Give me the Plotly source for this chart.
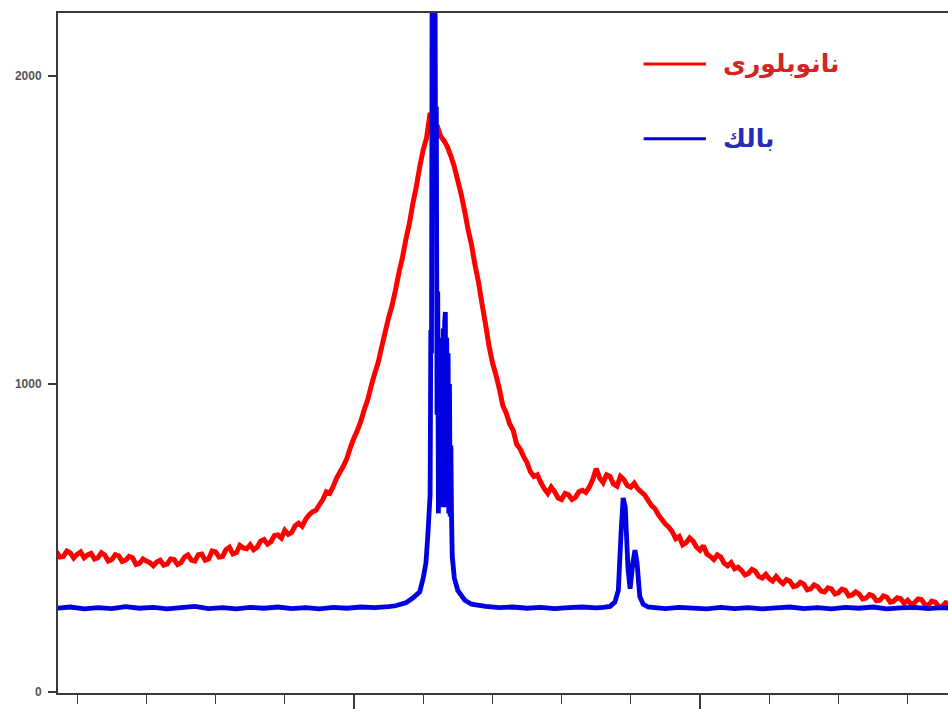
import plotly.graph_objects as go

# ---- data ----
nano_2theta = [
    25.70, 25.75, 25.80, 25.85, 25.90, 25.95,
    26.00, 26.05, 26.10, 26.15, 26.20, 26.25, 26.30, 26.35, 26.40, 26.45,
    26.50, 26.55, 26.60, 26.65, 26.70, 26.75, 26.80, 26.85, 26.90, 26.95,
    27.00, 27.05, 27.10, 27.15, 27.20, 27.25, 27.30, 27.35, 27.40, 27.45,
    27.50, 27.55, 27.60, 27.65, 27.70, 27.75, 27.80, 27.85, 27.90, 27.95,
    28.00, 28.05, 28.10, 28.15, 28.20, 28.25, 28.30, 28.35, 28.40, 28.45,
    28.50, 28.55, 28.60, 28.65, 28.70, 28.75, 28.80, 28.85, 28.90, 28.95,
    29.00, 29.05, 29.10, 29.15, 29.20, 29.25, 29.30, 29.35, 29.40, 29.45,
    29.50, 29.55, 29.60, 29.65, 29.70, 29.75, 29.80, 29.85, 29.90, 29.95,
    30.00, 30.05, 30.10, 30.15, 30.20, 30.25, 30.30, 30.35, 30.40, 30.45,
    30.50, 30.55, 30.60, 30.65, 30.70, 30.75, 30.80, 30.85, 30.90, 30.95,
    31.00, 31.05, 31.10, 31.15, 31.20, 31.25, 31.30, 31.35, 31.40, 31.45,
    31.50, 31.55, 31.60, 31.65, 31.70, 31.75, 31.80, 31.85, 31.90, 31.95,
    32.00, 32.05, 32.10, 32.15, 32.20, 32.25, 32.30, 32.35, 32.40, 32.45,
    32.50, 32.55, 32.60, 32.65, 32.70, 32.75, 32.80, 32.85, 32.90, 32.95,
    33.00, 33.05, 33.10, 33.15, 33.20, 33.25, 33.30, 33.35, 33.40, 33.45,
    33.50, 33.55, 33.60, 33.65, 33.70, 33.75, 33.80, 33.85, 33.90, 33.95,
    34.00, 34.05, 34.10, 34.15, 34.20, 34.25, 34.30, 34.35, 34.40, 34.45,
    34.50, 34.55, 34.60, 34.65, 34.70, 34.75, 34.80, 34.85, 34.90, 34.95,
    35.00, 35.05, 35.10, 35.15, 35.20, 35.25, 35.30, 35.35, 35.40, 35.45,
    35.50, 35.55, 35.60, 35.65, 35.70, 35.75, 35.80, 35.85, 35.90, 35.95,
    36.00, 36.05, 36.10, 36.15, 36.20, 36.25, 36.30, 36.35, 36.40, 36.45,
    36.50, 36.55, 36.60, 36.65, 36.70, 36.75, 36.80, 36.85, 36.90, 36.95,
    37.00, 37.05, 37.10, 37.15, 37.20, 37.25, 37.30, 37.35, 37.40, 37.45,
    37.50, 37.55, 37.60, 37.65, 37.70, 37.75, 37.80, 37.85, 37.90, 37.95,
    38.00, 38.05, 38.10, 38.15, 38.20, 38.25, 38.30, 38.35, 38.40, 38.45,
    38.50, 38.55, 38.60]
nano_counts = [
    455, 438, 440, 458, 452, 435,
    447, 455, 436, 445, 450, 432, 436, 452, 444, 425,
    430, 446, 442, 424, 428, 440, 436, 414, 418, 432,
    425, 420, 410, 422, 428, 412, 415, 432, 430, 414,
    420, 438, 445, 428, 425, 446, 448, 428, 432, 458,
    455, 438, 440, 462, 470, 448, 452, 476, 468, 465,
    478, 462, 470, 490, 495, 480, 488, 508, 510, 500,
    525, 512, 518, 540, 548, 538, 560, 575, 585, 590,
    608, 625, 650, 645, 668, 695, 715, 735, 760, 795,
    825, 850, 880, 918, 950, 995, 1035, 1070, 1120, 1168,
    1215, 1255, 1305, 1362, 1410, 1470, 1520, 1585, 1640, 1705,
    1760, 1800, 1880, 1790, 1840, 1805, 1790, 1770, 1740, 1705,
    1660, 1615, 1560, 1500, 1450, 1385, 1330, 1260, 1195, 1125,
    1070, 1030, 985, 930, 905, 870, 850, 805, 790, 765,
    745, 715, 700, 705, 680, 660, 645, 665, 650, 630,
    625, 645, 640, 625, 632, 650, 655, 648, 665, 690,
    725, 695, 680, 705, 700, 675, 668, 700, 690, 670,
    665, 678, 660, 650, 640, 622, 605, 595, 575, 560,
    545, 535, 520, 498, 505, 478, 485, 500, 490, 470,
    460, 475, 448, 440, 430, 445, 438, 418, 410, 420,
    400, 405, 395, 380, 385, 398, 392, 375, 370, 382,
    368, 360, 375, 362, 352, 365, 360, 342, 345, 356,
    350, 332, 335, 348, 342, 328, 325, 338, 335, 318,
    322, 334, 330, 312, 315, 325, 318, 302, 305, 316,
    312, 296, 298, 312, 308, 292, 295, 306, 303, 288,
    298, 285, 290, 302, 300, 284, 282, 295, 292, 276,
    278, 290, 285]

bulk_2theta = [25.70, 25.90, 26.10, 26.30, 26.50, 26.70, 26.90, 27.10, 27.30, 27.50, 27.70, 27.90,
               28.10, 28.30, 28.50, 28.70, 28.90, 29.10, 29.30, 29.50, 29.70, 29.90,
               30.10, 30.30, 30.50, 30.60, 30.75, 30.85, 30.95, 31.00, 31.04, 31.07, 31.09,
               31.10, 31.11, 31.12, 31.13, 31.14, 31.15, 31.16, 31.17, 31.18, 31.19,
               31.20, 31.21, 31.22, 31.23, 31.24, 31.25, 31.26, 31.27, 31.28, 31.29,
               31.30, 31.31, 31.32, 31.33, 31.34, 31.35, 31.36, 31.37, 31.38, 31.39,
               31.40, 31.41, 31.42, 31.45, 31.50, 31.60, 31.70, 31.90,
               32.10, 32.30, 32.50, 32.70, 32.90, 33.10, 33.30, 33.50, 33.60,
               33.70, 33.77, 33.82, 33.86, 33.89, 33.92, 33.96, 33.99,
               34.03, 34.06, 34.09, 34.13, 34.18, 34.25,
               34.35, 34.50, 34.70, 34.90, 35.10, 35.30, 35.50, 35.70, 35.90,
               36.10, 36.30, 36.50, 36.70, 36.90, 37.10, 37.30, 37.50, 37.70, 37.90,
               38.10, 38.30, 38.50, 38.60]
bulk_counts = [272, 276, 270, 274, 271, 277, 272, 275, 270, 274, 278, 271,
               274, 270, 275, 272, 276, 271, 274, 270, 275, 272,
               276, 274, 277, 280, 290, 305, 325, 370, 419, 520, 600,
               640, 1175, 1100, 2400, 2400, 2400, 2400, 2400, 1600, 1900,
               900, 1300, 580, 1150, 600, 1100, 620, 1150, 600, 1180,
               640, 1200, 1234, 700, 1150, 600, 1100, 580, 1000, 570,
               800, 560, 440, 370, 330, 298, 285, 278,
               274, 276, 272, 275, 271, 274, 276, 273, 275,
               278, 292, 330, 520, 630, 600, 400, 335,
               420, 461, 420, 310, 285, 276,
               274, 271, 275, 272, 270, 275, 271, 274, 270,
               273, 276, 271, 274, 270, 275, 272, 276, 270, 273,
               275, 271, 274, 272]

nano_label = "نانوبلوری"
bulk_label = "بالك"
y_tick_values = [0, 1000, 2000]
y_tick_labels = ["0", "1000", "2000"]

RED = "#ff0000"
BLUE = "#0000e0"
AXIS = "#3a3a3a"

fig = go.Figure()
fig.add_trace(go.Scatter(x=nano_2theta, y=nano_counts, mode="lines", name=nano_label,
                         line=dict(color=RED, width=5, simplify=False), showlegend=False))
fig.add_trace(go.Scatter(x=bulk_2theta, y=bulk_counts, mode="lines", name=bulk_label,
                         line=dict(color=BLUE, width=4.8, simplify=False), showlegend=False))

# legend drawn as sample lines + text
legend_items = [(nano_label, RED, "#d42424", 0.925), (bulk_label, BLUE, "#2a2ab8", 0.815)]
for label, lc, tc, yp in legend_items:
    fig.add_shape(type="line", xref="paper", yref="paper", x0=0.658, x1=0.728, y0=yp, y1=yp,
                  line=dict(color=lc, width=3))
    fig.add_annotation(text="<b>%s</b>" % label, xref="paper", yref="paper", x=0.745, y=yp,
                       xanchor="left", yanchor="middle", showarrow=False,
                       font=dict(family="DejaVu Sans", size=25, color=tc))

fig.update_layout(
    width=948, height=709,
    margin=dict(l=58, r=0, t=13, b=16),
    paper_bgcolor="white", plot_bgcolor="white",
    xaxis=dict(range=[25.7225, 38.584], showgrid=False, zeroline=False,
               showline=True, linecolor=AXIS, linewidth=2, mirror=True,
               ticks="outside", tick0=0, dtick=5, ticklen=15, tickwidth=1.5, tickcolor=AXIS,
               minor=dict(dtick=1, ticks="outside", ticklen=9, tickwidth=1.2, tickcolor=AXIS),
               showticklabels=False),
    yaxis=dict(range=[-3.2, 2204.5], showgrid=False, zeroline=False,
               showline=True, linecolor=AXIS, linewidth=2, mirror=False,
               tickvals=y_tick_values, ticktext=y_tick_labels,
               ticks="outside", ticklen=8, tickwidth=1.5, tickcolor=AXIS,
               tickfont=dict(family="Arial", size=12, color="#555555", weight="bold"),
               ticklabelstandoff=4),
)

# remove the page's default body margin so the 948x709 figure fills the window exactly
fig.write_html("out.html", config={"displayModeBar": False},
               post_script="document.body.style.margin='0';document.body.style.overflow='hidden';")
